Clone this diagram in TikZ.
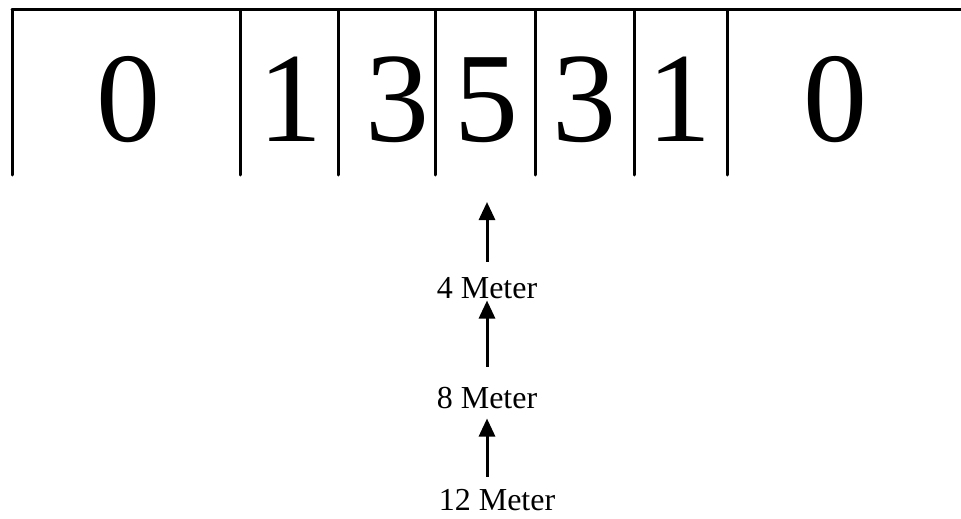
\documentclass[tikz,border=0pt]{standalone}
\usepackage{fontspec}
\setmainfont{Liberation Serif}
\usetikzlibrary{arrows.meta}

\begin{document}
\begin{tikzpicture}[x=1pt, y=-1pt,
  wall/.style={line width=3pt, line cap=round},
  digit/.style={anchor=base, inner sep=0pt, font=\fontsize{128}{128}\selectfont},
  depth/.style={anchor=base, inner sep=0pt, font=\fontsize{32}{32}\selectfont},
  rise/.style={line width=3pt, -{Triangle[width=16pt,length=18pt]}}]
  \useasboundingbox (0,0) rectangle (961,519);

  % Top line and cell walls
  \draw[wall] (12,10) -- (961,10);
  \foreach \x in {12,240,338,435,535,634,727}
    \draw[wall] (\x,10) -- (\x,175);

  % Values in the cells
  \foreach \v/\x [count=\i] in {0/128, 1/290, 3/397, 5/486, 3/584, 1/679, 0/835}
    \node[digit] (d\i) at (\x,141) {\v};

  % Depth labels (schematic below the cells)
  \coordinate (tip) at (487,202);
  \node[depth] (m4) at (487,298) {4 Meter};
  \node[depth] (m8) at (487,408) {8 Meter};
  \node[depth] (m12) at (497,510) {12 Meter};

  \draw[rise, shorten <=15pt] (m4.north) -- (tip);
  \draw[rise, shorten <=20pt, shorten >=2pt] (m8.north) -- (m4.south);
  \draw[rise, shorten <=12pt, shorten >=10pt] (m12.north -| m8.north) -- (m8.south);
\end{tikzpicture}
\end{document}
